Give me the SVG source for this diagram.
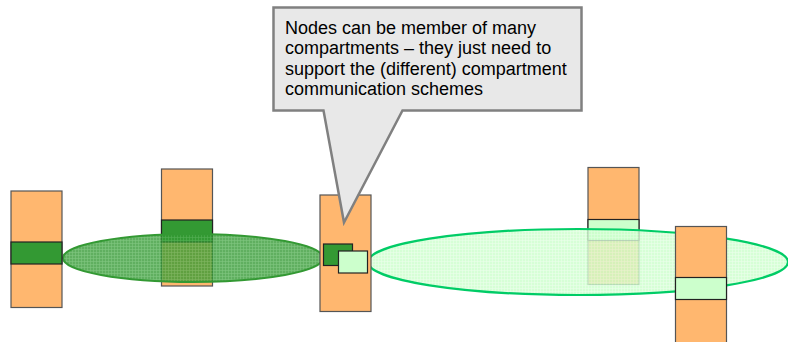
<svg xmlns="http://www.w3.org/2000/svg" width="788" height="342" viewBox="0 0 788 342">
  <style>
    .node { fill: #FFB76F; stroke: #555; stroke-width: 1.2; }
    .band-dark { fill: #339933; stroke: #222; stroke-width: 1.2; }
    .band-light { fill: #CCFFCC; stroke: #222; stroke-width: 1.2; }
    .callout { fill: #E8E8E8; stroke: #808080; stroke-width: 2.5; stroke-linejoin: miter; }
    .label { font-family: "Liberation Sans", Arial, sans-serif; font-size: 18px; fill: #000; }
  </style>
  <defs>
    <pattern id="meshDark" width="3" height="3" patternUnits="userSpaceOnUse">
      <rect width="3" height="3" fill="#339933"/>
      <path d="M0 0.5H3M0.5 0V3" stroke="#5DB55D" stroke-width="0.6"/>
    </pattern>
    <pattern id="meshLight" width="3" height="3" patternUnits="userSpaceOnUse">
      <rect width="3" height="3" fill="#CCFFCC"/>
      <path d="M0 0.5H3M0.5 0V3" stroke="#E6FFE6" stroke-width="0.6"/>
    </pattern>
  </defs>

  <!-- nodes sitting behind the compartments -->
  <g id="node2">
    <rect class="node" x="161.5" y="169" width="51" height="117"/>
    <rect class="band-dark" x="161.5" y="220" width="51" height="22"/>
  </g>
  <g id="node4">
    <rect class="node" x="588" y="167.5" width="51" height="117"/>
    <rect class="band-light" x="588" y="219.5" width="51" height="21"/>
  </g>

  <!-- compartments -->
  <g id="compartments">
    <ellipse id="compartment-dark" cx="193" cy="258" rx="130" ry="24" fill="url(#meshDark)" fill-opacity="0.78" stroke="#339933" stroke-width="2"/>
    <ellipse id="compartment-light" cx="578" cy="262" rx="210" ry="33" fill="url(#meshLight)" fill-opacity="0.8" stroke="#00CC66" stroke-width="2.2"/>
  </g>

  <!-- nodes in front -->
  <g id="node1">
    <rect class="node" x="11" y="191" width="51" height="116.5"/>
    <rect class="band-dark" x="11" y="242" width="51" height="22"/>
  </g>
  <g id="node3">
    <rect class="node" x="320" y="195" width="51" height="116.5"/>
    <rect class="band-dark" x="323.5" y="244" width="29" height="21.5"/>
    <rect class="band-light" x="338.5" y="251" width="29" height="22"/>
  </g>
  <g id="node5">
    <rect class="node" x="675.5" y="226.5" width="51" height="118"/>
    <rect class="band-light" x="675.5" y="277.5" width="51" height="22"/>
  </g>

  <!-- callout -->
  <g id="callout">
    <path class="callout" d="M273.5 7.5H581.5V110.5H402.5L344 222.5L323.5 110.5H273.5Z"/>
    <text class="label" x="285" y="33.5">Nodes can be member of many</text>
    <text class="label" x="285" y="54">compartments – they just need to</text>
    <text class="label" x="285" y="74.5">support the (different) compartment</text>
    <text class="label" x="285" y="95">communication schemes</text>
  </g>
</svg>
